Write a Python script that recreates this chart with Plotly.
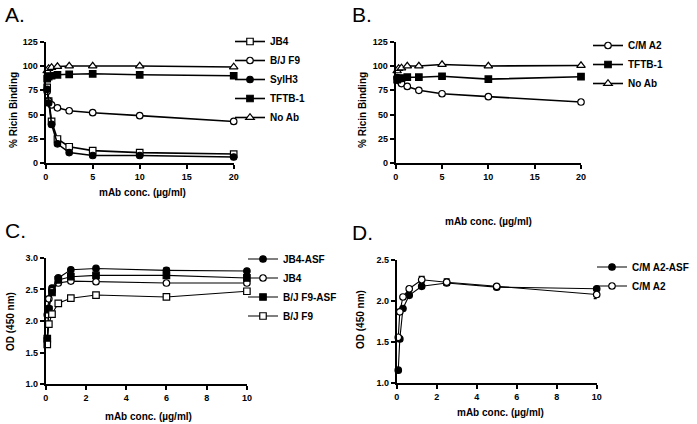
import plotly.graph_objects as go

W, H = 697, 424

# ---------------- data ----------------
# Panel A (% Ricin Binding vs mAb conc.)
xA = [0.156, 0.3125, 0.625, 1.25, 2.5, 5, 10, 20]
A_JB4 = [78, 64, 43, 25, 17, 13, 11, 9.5]
A_BJF9 = [74, 64, 60, 57, 54, 52, 49, 43]
A_SylH3 = [76, 62, 40, 20, 11, 8, 8, 6.5]
A_TFTB1 = [87, 89, 90, 91, 91.5, 92, 91, 90]
A_NoAb = [95, 97.5, 98.5, 99.5, 100, 100, 100, 99]

# Panel B
xB = [0.156, 0.3125, 0.625, 1.25, 2.5, 5, 10, 20]
B_CMA2 = [88, 85, 82, 79, 75, 71.5, 68.5, 63]
B_TFTB1 = [86, 87, 87.5, 88.5, 88.5, 89.5, 86.5, 89]
B_NoAb = [95, 97.5, 98, 100, 100, 101.5, 100, 100.5]

# Panel C (OD 450 nm)
xC = [0.078, 0.156, 0.3125, 0.625, 1.25, 2.5, 6, 10]
C_JB4ASF = [1.72, 2.2, 2.52, 2.68, 2.81, 2.83, 2.8, 2.79]
C_JB4ASF_err = [0, 0, 0, 0, 0, 0, 0.04, 0]
C_JB4 = [2.1, 2.35, 2.48, 2.6, 2.63, 2.62, 2.6, 2.6]
C_BJF9ASF = [1.72, 2.18, 2.45, 2.65, 2.7, 2.72, 2.72, 2.68]
C_BJF9 = [1.63, 1.95, 2.11, 2.28, 2.36, 2.41, 2.38, 2.47]

# Panel D
xD = [0.078, 0.156, 0.3125, 0.625, 1.25, 2.5, 5, 10]
D_CMA2ASF = [1.16, 1.54, 1.91, 2.07, 2.18, 2.22, 2.17, 2.15]
D_CMA2ASF_err = [0, 0, 0, 0, 0.02, 0.03, 0.02, 0.02]
D_CMA2 = [1.56, 1.87, 2.05, 2.15, 2.26, 2.23, 2.18, 2.08]
D_CMA2_err = [0, 0, 0, 0.02, 0.04, 0.04, 0.02, 0.05]

# ---------------- helpers ----------------
def px_x(p):
    return p / W

def px_y(p):
    return 1 - p / H

FONT = "Liberation Sans, Arial, sans-serif"

fig = go.Figure()

def add(x, y, name, symbol, filled, xa, ya, legend, lw, err=None):
    fig.add_trace(go.Scatter(
        x=x, y=y, name=name, mode="lines+markers",
        xaxis=xa, yaxis=ya, legend=legend, cliponaxis=False,
        line=dict(color="black", width=lw),
        marker=dict(symbol=symbol, size=6.5 if symbol != "triangle-up" else 7.5,
                    color="black" if filled else "white",
                    line=dict(color="black", width=1.2)),
        error_y=dict(type="data", array=err, visible=True, color="black",
                     thickness=1.2, width=3) if err is not None else None,
    ))

add(xA, A_JB4, "JB4", "square", False, "x", "y", "legend", 1.6)
add(xA, A_BJF9, "B/J F9", "circle", False, "x", "y", "legend", 1.6)
add(xA, A_SylH3, "SylH3", "circle", True, "x", "y", "legend", 1.6)
add(xA, A_TFTB1, "TFTB-1", "square", True, "x", "y", "legend", 1.6)
add(xA, A_NoAb, "No Ab", "triangle-up", False, "x", "y", "legend", 1.6)

add(xB, B_CMA2, "C/M A2", "circle", False, "x2", "y2", "legend2", 1.6)
add(xB, B_TFTB1, "TFTB-1", "square", True, "x2", "y2", "legend2", 1.6)
add(xB, B_NoAb, "No Ab", "triangle-up", False, "x2", "y2", "legend2", 1.6)

add(xC, C_JB4ASF, "JB4-ASF", "circle", True, "x3", "y3", "legend3", 1.1, C_JB4ASF_err)
add(xC, C_JB4, "JB4", "circle", False, "x3", "y3", "legend3", 1.1)
add(xC, C_BJF9ASF, "B/J F9-ASF", "square", True, "x3", "y3", "legend3", 1.1)
add(xC, C_BJF9, "B/J F9", "square", False, "x3", "y3", "legend3", 1.1)

add(xD, D_CMA2ASF, "C/M A2-ASF", "circle", True, "x4", "y4", "legend4", 1.1, D_CMA2ASF_err)
add(xD, D_CMA2, "C/M A2", "circle", False, "x4", "y4", "legend4", 1.1, D_CMA2_err)

tickfont = dict(family=FONT, size=9, color="black", weight="bold")

def axis_common():
    return dict(showline=True, linecolor="black", linewidth=2, ticks="outside",
                ticklen=4, tickwidth=2, tickcolor="black", showgrid=False,
                zeroline=False, tickfont=tickfont, fixedrange=True, automargin=False)

# domains (pixel measured)
dA_x = [px_x(45.7), px_x(233.7)]
dAB_y = [px_y(163.3), px_y(41.7)]
dB_x = [px_x(395.7), px_x(581)]
dC_x = [px_x(45.7), px_x(246.9)]
dC_y = [px_y(384.3), px_y(257.7)]
dD_x = [px_x(396.7), px_x(596.7)]
dD_y = [px_y(383.3), px_y(260)]

fig.update_layout(
    width=W, height=H, margin=dict(l=0, r=0, t=0, b=0, pad=0, autoexpand=False),
    paper_bgcolor="white", plot_bgcolor="white",
    font=dict(family=FONT, color="black"),
    xaxis=dict(domain=dA_x, anchor="y", range=[0, 20], tickvals=[0, 5, 10, 15, 20], **axis_common()),
    yaxis=dict(domain=dAB_y, anchor="x", range=[0, 125], tickvals=[0, 25, 50, 75, 100, 125], **axis_common()),
    xaxis2=dict(domain=dB_x, anchor="y2", range=[0, 20], tickvals=[0, 5, 10, 15, 20], **axis_common()),
    yaxis2=dict(domain=dAB_y, anchor="x2", range=[0, 125], tickvals=[0, 25, 50, 75, 100, 125], **axis_common()),
    xaxis3=dict(domain=dC_x, anchor="y3", range=[0, 10], tickvals=[0, 2, 4, 6, 8, 10], **axis_common()),
    yaxis3=dict(domain=dC_y, anchor="x3", range=[1.0, 3.0], tickvals=[1.0, 1.5, 2.0, 2.5, 3.0], tickformat=".1f", **axis_common()),
    xaxis4=dict(domain=dD_x, anchor="y4", range=[0, 10], tickvals=[0, 2, 4, 6, 8, 10], **axis_common()),
    yaxis4=dict(domain=dD_y, anchor="x4", range=[1.0, 2.5], tickvals=[1.0, 1.5, 2.0, 2.5], tickformat=".1f", **axis_common()),
)

legfont = dict(family=FONT, size=10, color="black", weight="bold")
def leg(xp, yp):
    return dict(x=px_x(xp), y=px_y(yp), xanchor="left", yanchor="top",
                bgcolor="rgba(0,0,0,0)", font=legfont, tracegroupgap=0,
                borderwidth=0)

fig.update_layout(
    legend=leg(230, 27),
    legend2=leg(588, 31),
    legend3=leg(243, 244.5),
    legend4=leg(592, 252.5),
)

ann = []
def text(s, xp, yp, size, bold=True, angle=0):
    ann.append(dict(text=s, x=px_x(xp), y=px_y(yp), xref="paper", yref="paper",
                    showarrow=False, xanchor="center", yanchor="middle", textangle=angle,
                    font=dict(family=FONT, size=size, color="black",
                              weight="bold" if bold else "normal")))

# panel letters
text("A.", 15, 15, 21, bold=False)
text("B.", 362, 15, 21, bold=False)
text("C.", 15, 231, 21, bold=False)
text("D.", 362, 232, 21, bold=False)
# axis titles
text("% Ricin Binding", 13, 110, 10, angle=-90)
text("% Ricin Binding", 362, 110, 10, angle=-90)
text("OD (450 nm)", 10, 322, 10, angle=-90)
text("OD (450 nm)", 360, 320, 10, angle=-90)
text("mAb conc. (µg/ml)", 142, 192, 10)
text("mAb conc. (µg/ml)", 488, 221, 10)
text("mAb conc. (µg/ml)", 148, 416, 10)
text("mAb conc. (µg/ml)", 500, 412, 10)
fig.update_layout(annotations=ann)

fig.write_html(
    "out.html",
    config={"displayModeBar": False},
    post_script="document.body.style.margin='0';document.body.style.overflow='hidden';",
)
